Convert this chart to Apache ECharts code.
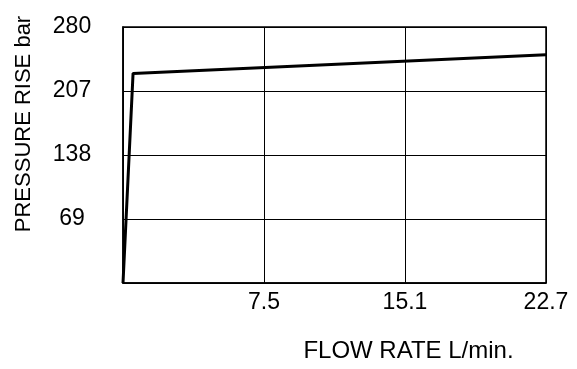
<!DOCTYPE html>
<html>
<head>
<meta charset="utf-8">
<script src="https://cdn.jsdelivr.net/npm/echarts@6/dist/echarts.min.js"></script>
<style>
html,body{margin:0;padding:0;background:#fff;}
#chart{width:577px;height:369px;}
</style>
</head>
<body>
<div id="chart"></div>
<script>
// Data
var flowRate = [0, 0.54, 22.7];          // L/min
var pressureRise = [0, 226, 246];        // bar
var xTickLabels = ['', '7.5', '15.1', '22.7'];
var yTickLabels = ['', '69', '138', '207', '280'];
var xAxisName = 'FLOW RATE L/min.';
var yAxisName = 'PRESSURE RISE bar';

var xMax = 22.7, xInterval = 22.7 / 3;
var yMax = 276, yInterval = 69;

var seriesData = flowRate.map(function (x, i) { return [x, pressureRise[i]]; });
var font = 'Liberation Sans, Arial, Helvetica, sans-serif';

var chart = echarts.init(document.getElementById('chart'), null, {renderer: 'canvas'});
chart.setOption({
  animation: false,
  backgroundColor: '#fff',
  grid: {left: 123, right: 31, top: 27, bottom: 86, containLabel: false, outerBoundsMode: 'none',
         show: true, borderColor: '#000', borderWidth: 1.5, backgroundColor: 'transparent'},
  xAxis: {
    type: 'value', min: 0, max: xMax, interval: xInterval,
    name: xAxisName, nameLocation: 'middle', nameGap: 56,
    nameTextStyle: {fontFamily: font, fontSize: 24, color: '#000', padding: [0, 0, 0, 148]},
    axisLine: {show: true, lineStyle: {color: '#000', width: 1.5}},
    axisTick: {show: false},
    splitLine: {show: true, lineStyle: {color: '#000', width: 1}},
    axisLabel: {
      fontFamily: font, fontSize: 23, color: '#000', margin: 8, showMaxLabel: true,
      formatter: function (v) { return xTickLabels[Math.round(v / xInterval)] || ''; }
    }
  },
  yAxis: {
    type: 'value', min: 0, max: yMax, interval: yInterval,
    name: yAxisName, nameLocation: 'middle', nameGap: 88, nameRotate: 90,
    nameTextStyle: {fontFamily: font, fontSize: 22, color: '#000', padding: [0, 0, 0, 62]},
    axisLine: {show: true, lineStyle: {color: '#000', width: 1.5}},
    axisTick: {show: false},
    splitLine: {show: true, lineStyle: {color: '#000', width: 1}},
    axisLabel: {
      fontFamily: font, fontSize: 23, color: '#000', margin: 51, align: 'center',
      formatter: function (v) { return yTickLabels[Math.round(v / yInterval)] || ''; }
    }
  },
  series: [{
    type: 'line', data: seriesData, symbol: 'none',
    lineStyle: {color: '#000', width: 3}, z: 5
  }]
});
</script>
</body>
</html>
